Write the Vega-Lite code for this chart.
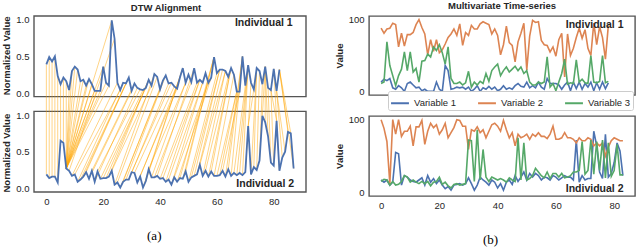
{
"$schema": "https://vega.github.io/schema/vega-lite/v6.json",
"padding": {"left": 1, "top": 0, "right": 3, "bottom": 0},
"config": {
  "font": "Liberation Sans",
  "view": {"stroke": "#555555", "strokeWidth": 1.4},
  "axis": {"grid": false, "ticks": false, "domain": false, "labelFont": "Liberation Sans", "labelFontSize": 9.5, "labelColor": "#262626", "titleFont": "Liberation Sans", "titleFontSize": 9.5, "titleFontWeight": "bold", "titleColor": "#262626", "labelPadding": 5, "titlePadding": 4},
  "title": {"font": "Liberation Sans", "fontSize": 9.5, "fontWeight": "bold", "color": "#262626", "offset": 2, "frame": "group"}
},
"datasets": {
  "top": [{"i":0,"v":0.39},{"i":1,"v":0.49},{"i":2,"v":0.43},{"i":3,"v":0.50},{"i":4,"v":0.23},{"i":5,"v":0.12},{"i":6,"v":0.21},{"i":7,"v":0.16},{"i":8,"v":0.04},{"i":9,"v":0.30},{"i":10,"v":0.36},{"i":11,"v":0.32},{"i":12,"v":0.16},{"i":13,"v":0.18},{"i":14,"v":0.10},{"i":15,"v":0.19},{"i":16,"v":0.12},{"i":17,"v":0.03},{"i":18,"v":0.03},{"i":19,"v":0.03},{"i":20,"v":0.36},{"i":21,"v":0.14},{"i":22,"v":0.10},{"i":23,"v":0.99},{"i":24,"v":0.74},{"i":25,"v":0.14},{"i":26,"v":0.04},{"i":27,"v":0.14},{"i":28,"v":0.13},{"i":29,"v":0.21},{"i":30,"v":0.03},{"i":31,"v":0.13},{"i":32,"v":0.07},{"i":33,"v":0.05},{"i":34,"v":0.04},{"i":35,"v":0.07},{"i":36,"v":0.18},{"i":37,"v":0.10},{"i":38,"v":0.26},{"i":39,"v":0.22},{"i":40,"v":0.05},{"i":41,"v":0.17},{"i":42,"v":0.24},{"i":43,"v":0.13},{"i":44,"v":0.14},{"i":45,"v":0.09},{"i":46,"v":0.06},{"i":47,"v":0.21},{"i":48,"v":0.34},{"i":49,"v":0.14},{"i":50,"v":0.25},{"i":51,"v":0.15},{"i":52,"v":0.34},{"i":53,"v":0.14},{"i":54,"v":0.18},{"i":55,"v":0.14},{"i":56,"v":0.27},{"i":57,"v":0.14},{"i":58,"v":0.21},{"i":59,"v":0.49},{"i":60,"v":0.27},{"i":61,"v":0.32},{"i":62,"v":0.32},{"i":63,"v":0.30},{"i":64,"v":0.22},{"i":65,"v":0.34},{"i":66,"v":0.25},{"i":67,"v":0.02},{"i":68,"v":0.02},{"i":69,"v":0.50},{"i":70,"v":0.10},{"i":71,"v":0.38},{"i":72,"v":0.14},{"i":73,"v":0.05},{"i":74,"v":0.34},{"i":75,"v":0.30},{"i":76,"v":0.12},{"i":77,"v":0.36},{"i":78,"v":0.07},{"i":79,"v":0.04},{"i":80,"v":0.33},{"i":81,"v":0.03},{"i":82,"v":0.32}],
  "bot": [{"i":0,"v":0.19},{"i":1,"v":0.14},{"i":2,"v":0.16},{"i":3,"v":0.16},{"i":4,"v":0.08},{"i":5,"v":0.65},{"i":6,"v":0.62},{"i":7,"v":0.27},{"i":8,"v":0.24},{"i":9,"v":0.17},{"i":10,"v":0.19},{"i":11,"v":0.09},{"i":12,"v":0.12},{"i":13,"v":0.16},{"i":14,"v":0.22},{"i":15,"v":0.13},{"i":16,"v":0.24},{"i":17,"v":0.09},{"i":18,"v":0.23},{"i":19,"v":0.13},{"i":20,"v":0.14},{"i":21,"v":0.14},{"i":22,"v":0.16},{"i":23,"v":0.24},{"i":24,"v":0.05},{"i":25,"v":0.08},{"i":26,"v":0.01},{"i":27,"v":0.09},{"i":28,"v":0.12},{"i":29,"v":0.12},{"i":30,"v":0.22},{"i":31,"v":0.21},{"i":32,"v":0.08},{"i":33,"v":0.16},{"i":34,"v":0.01},{"i":35,"v":0.10},{"i":36,"v":0.26},{"i":37,"v":0.15},{"i":38,"v":0.15},{"i":39,"v":0.17},{"i":40,"v":0.13},{"i":41,"v":0.14},{"i":42,"v":0.09},{"i":43,"v":0.12},{"i":44,"v":0.05},{"i":45,"v":0.15},{"i":46,"v":0.09},{"i":47,"v":0.14},{"i":48,"v":0.13},{"i":49,"v":0.23},{"i":50,"v":0.09},{"i":51,"v":0.15},{"i":52,"v":0.17},{"i":53,"v":0.19},{"i":54,"v":0.32},{"i":55,"v":0.17},{"i":56,"v":0.24},{"i":57,"v":0.16},{"i":58,"v":0.23},{"i":59,"v":0.17},{"i":60,"v":0.17},{"i":61,"v":0.18},{"i":62,"v":0.24},{"i":63,"v":0.16},{"i":64,"v":0.26},{"i":65,"v":0.17},{"i":66,"v":0.21},{"i":67,"v":0.18},{"i":68,"v":0.21},{"i":69,"v":0.18},{"i":70,"v":0.22},{"i":71,"v":0.85},{"i":72,"v":0.19},{"i":73,"v":0.29},{"i":74,"v":0.25},{"i":75,"v":0.38},{"i":76,"v":0.99},{"i":77,"v":0.90},{"i":78,"v":0.71},{"i":79,"v":0.35},{"i":80,"v":0.31},{"i":81,"v":0.92},{"i":82,"v":0.24},{"i":83,"v":0.42},{"i":84,"v":0.50},{"i":85,"v":0.77},{"i":86,"v":0.75},{"i":87,"v":0.27}],
  "b1": [{"i":0,"v1":13,"v2":88,"v3":11},{"i":1,"v1":17,"v2":81,"v3":13},{"i":2,"v1":15,"v2":87,"v3":69},{"i":3,"v1":18,"v2":88,"v3":36},{"i":4,"v1":5,"v2":95,"v3":22},{"i":5,"v1":3,"v2":93,"v3":8},{"i":6,"v1":8,"v2":62,"v3":22},{"i":7,"v1":5,"v2":81,"v3":31},{"i":8,"v1":0,"v2":63,"v3":55},{"i":9,"v1":11,"v2":79,"v3":29},{"i":10,"v1":13,"v2":79,"v3":55},{"i":11,"v1":9,"v2":82,"v3":27},{"i":12,"v1":5,"v2":93,"v3":32},{"i":13,"v1":6,"v2":100,"v3":13},{"i":14,"v1":1,"v2":89,"v3":42},{"i":15,"v1":3,"v2":80,"v3":43},{"i":16,"v1":0,"v2":51,"v3":52},{"i":17,"v1":0,"v2":72,"v3":48},{"i":18,"v1":0,"v2":56,"v3":62},{"i":19,"v1":13,"v2":72,"v3":57},{"i":20,"v1":3,"v2":54,"v3":65},{"i":21,"v1":0,"v2":58,"v3":54},{"i":22,"v1":36,"v2":66,"v3":38},{"i":23,"v1":29,"v2":75,"v3":62},{"i":24,"v1":3,"v2":80,"v3":18},{"i":25,"v1":4,"v2":87,"v3":11},{"i":26,"v1":6,"v2":78,"v3":11},{"i":27,"v1":5,"v2":94,"v3":13},{"i":28,"v1":6,"v2":64,"v3":9},{"i":29,"v1":3,"v2":82,"v3":12},{"i":30,"v1":6,"v2":78,"v3":28},{"i":31,"v1":0,"v2":92,"v3":6},{"i":32,"v1":3,"v2":87,"v3":13},{"i":33,"v1":8,"v2":87,"v3":9},{"i":34,"v1":0,"v2":94,"v3":14},{"i":35,"v1":5,"v2":97,"v3":11},{"i":36,"v1":3,"v2":95,"v3":25},{"i":37,"v1":7,"v2":93,"v3":14},{"i":38,"v1":3,"v2":80,"v3":29},{"i":39,"v1":6,"v2":87,"v3":34},{"i":40,"v1":1,"v2":78,"v3":38},{"i":41,"v1":3,"v2":51,"v3":22},{"i":42,"v1":8,"v2":65,"v3":29},{"i":43,"v1":3,"v2":91,"v3":34},{"i":44,"v1":5,"v2":68,"v3":27},{"i":45,"v1":3,"v2":64,"v3":31},{"i":46,"v1":8,"v2":41,"v3":35},{"i":47,"v1":11,"v2":69,"v3":29},{"i":48,"v1":7,"v2":81,"v3":34},{"i":49,"v1":6,"v2":95,"v3":25},{"i":50,"v1":13,"v2":30,"v3":29},{"i":51,"v1":5,"v2":77,"v3":13},{"i":52,"v1":8,"v2":99,"v3":9},{"i":53,"v1":5,"v2":96,"v3":9},{"i":54,"v1":13,"v2":97,"v3":13},{"i":55,"v1":6,"v2":71,"v3":11},{"i":56,"v1":3,"v2":65,"v3":13},{"i":57,"v1":18,"v2":64,"v3":48},{"i":58,"v1":11,"v2":55,"v3":6},{"i":59,"v1":11,"v2":62,"v3":11},{"i":60,"v1":11,"v2":49,"v3":1},{"i":61,"v1":9,"v2":72,"v3":13},{"i":62,"v1":3,"v2":81,"v3":25},{"i":63,"v1":9,"v2":20,"v3":45},{"i":64,"v1":13,"v2":80,"v3":10},{"i":65,"v1":1,"v2":50,"v3":12},{"i":66,"v1":13,"v2":60,"v3":11},{"i":67,"v1":4,"v2":75,"v3":44},{"i":68,"v1":13,"v2":88,"v3":13},{"i":69,"v1":3,"v2":74,"v3":17},{"i":70,"v1":11,"v2":86,"v3":12},{"i":71,"v1":6,"v2":60,"v3":11},{"i":72,"v1":13,"v2":50,"v3":50},{"i":73,"v1":1,"v2":95,"v3":13},{"i":74,"v1":12,"v2":65,"v3":12},{"i":75,"v1":3,"v2":90,"v3":14},{"i":76,"v1":13,"v2":75,"v3":50},{"i":77,"v1":4,"v2":45,"v3":12},{"i":78,"v1":12,"v2":92,"v3":14}],
  "b2": [{"i":0,"v1":17,"v2":100,"v3":15},{"i":1,"v1":14,"v2":88,"v3":18},{"i":2,"v1":17,"v2":70,"v3":17},{"i":3,"v1":10,"v2":12,"v3":10},{"i":4,"v1":14,"v2":100,"v3":15},{"i":5,"v1":55,"v2":80,"v3":10},{"i":6,"v1":53,"v2":100,"v3":11},{"i":7,"v1":10,"v2":77,"v3":15},{"i":8,"v1":23,"v2":84,"v3":23},{"i":9,"v1":21,"v2":84,"v3":21},{"i":10,"v1":17,"v2":91,"v3":14},{"i":11,"v1":15,"v2":64,"v3":17},{"i":12,"v1":14,"v2":90,"v3":14},{"i":13,"v1":17,"v2":90,"v3":12},{"i":14,"v1":20,"v2":99,"v3":15},{"i":15,"v1":10,"v2":66,"v3":12},{"i":16,"v1":23,"v2":84,"v3":15},{"i":17,"v1":14,"v2":95,"v3":9},{"i":18,"v1":19,"v2":89,"v3":14},{"i":19,"v1":12,"v2":93,"v3":15},{"i":20,"v1":17,"v2":80,"v3":21},{"i":21,"v1":10,"v2":86,"v3":11},{"i":22,"v1":5,"v2":95,"v3":14},{"i":23,"v1":8,"v2":75,"v3":9},{"i":24,"v1":3,"v2":82,"v3":6},{"i":25,"v1":10,"v2":89,"v3":11},{"i":26,"v1":11,"v2":100,"v3":12},{"i":27,"v1":12,"v2":99,"v3":10},{"i":28,"v1":10,"v2":91,"v3":11},{"i":29,"v1":12,"v2":91,"v3":12},{"i":30,"v1":20,"v2":59,"v3":72},{"i":31,"v1":12,"v2":86,"v3":71},{"i":32,"v1":3,"v2":84,"v3":15},{"i":33,"v1":10,"v2":90,"v3":86},{"i":34,"v1":21,"v2":82,"v3":17},{"i":35,"v1":17,"v2":86,"v3":59},{"i":36,"v1":14,"v2":75,"v3":21},{"i":37,"v1":10,"v2":84,"v3":15},{"i":38,"v1":17,"v2":93,"v3":21},{"i":39,"v1":14,"v2":95,"v3":19},{"i":40,"v1":6,"v2":91,"v3":17},{"i":41,"v1":12,"v2":84,"v3":19},{"i":42,"v1":3,"v2":99,"v3":17},{"i":43,"v1":14,"v2":86,"v3":14},{"i":44,"v1":17,"v2":75,"v3":20},{"i":45,"v1":11,"v2":82,"v3":17},{"i":46,"v1":23,"v2":64,"v3":15},{"i":47,"v1":15,"v2":80,"v3":75},{"i":48,"v1":21,"v2":75,"v3":17},{"i":49,"v1":28,"v2":77,"v3":68},{"i":50,"v1":17,"v2":80,"v3":17},{"i":51,"v1":26,"v2":73,"v3":19},{"i":52,"v1":21,"v2":80,"v3":23},{"i":53,"v1":26,"v2":77,"v3":33},{"i":54,"v1":23,"v2":82,"v3":28},{"i":55,"v1":17,"v2":77,"v3":23},{"i":56,"v1":21,"v2":77,"v3":20},{"i":57,"v1":20,"v2":74,"v3":28},{"i":58,"v1":17,"v2":80,"v3":19},{"i":59,"v1":23,"v2":91,"v3":26},{"i":60,"v1":21,"v2":73,"v3":26},{"i":61,"v1":17,"v2":73,"v3":21},{"i":62,"v1":20,"v2":75,"v3":26},{"i":63,"v1":23,"v2":82,"v3":20},{"i":64,"v1":21,"v2":75,"v3":21},{"i":65,"v1":21,"v2":75,"v3":23},{"i":66,"v1":17,"v2":73,"v3":28},{"i":67,"v1":72,"v2":68,"v3":28},{"i":68,"v1":14,"v2":75,"v3":30},{"i":69,"v1":23,"v2":71,"v3":70},{"i":70,"v1":17,"v2":71,"v3":25},{"i":71,"v1":19,"v2":75,"v3":30},{"i":72,"v1":19,"v2":73,"v3":72},{"i":73,"v1":84,"v2":64,"v3":25},{"i":74,"v1":64,"v2":68,"v3":70},{"i":75,"v1":28,"v2":64,"v3":30},{"i":76,"v1":19,"v2":68,"v3":72},{"i":77,"v1":80,"v2":50,"v3":20},{"i":78,"v1":21,"v2":62,"v3":68},{"i":79,"v1":26,"v2":71,"v3":22},{"i":80,"v1":41,"v2":75,"v3":30},{"i":81,"v1":68,"v2":73,"v3":66},{"i":82,"v1":57,"v2":71,"v3":24},{"i":83,"v1":23,"v2":71,"v3":24}]
},
"spacing": 26,
"hconcat": [
  {
    "title": {"text": "(a)", "orient": "bottom", "anchor": "middle", "frame": "bounds", "font": "Liberation Serif", "fontSize": 13, "fontWeight": "normal", "color": "#000000", "offset": 24},
    "vconcat": [
      {
        "width": 272, "height": 176,
        "view": {"stroke": null},
        "title": {"text": "DTW Alignment", "dx": -4},
        "resolve": {"axis": {"y": "independent"}},
        "layer": [
          {
            "data": {"values": [{"f": 1}]},
            "mark": {"type": "rect", "fill": null, "stroke": "#555555", "strokeWidth": 1.4},
            "encoding": {
              "x": {"datum": -4.35, "type": "quantitative", "scale": {"domain": [-4.35, 91.35], "nice": false, "zero": false}, "axis": {"values": [0, 20, 40, 60, 80], "title": null, "labelPadding": 4}},
              "x2": {"datum": 91.35},
              "y": {"datum": 1.25, "type": "quantitative", "scale": {"domain": [-0.05, 2.35], "nice": false, "zero": false}, "axis": null},
              "y2": {"datum": 2.35}
            }
          },
          {
            "data": {"values": [{"f": 1}]},
            "mark": {"type": "rect", "fill": null, "stroke": "#555555", "strokeWidth": 1.4},
            "encoding": {
              "x": {"datum": -4.35, "type": "quantitative"},
              "x2": {"datum": 91.35},
              "y": {"datum": -0.05, "type": "quantitative", "axis": null},
              "y2": {"datum": 1.05}
            }
          },
          {
            "data": {"values": [{"i":0,"j":0},{"i":1,"j":1},{"i":2,"j":2},{"i":3,"j":3},{"i":4,"j":4},{"i":5,"j":5},{"i":6,"j":6},{"i":7,"j":7},{"i":8,"j":7},{"i":9,"j":7},{"i":10,"j":7},{"i":11,"j":7},{"i":12,"j":7},{"i":13,"j":7},{"i":14,"j":7},{"i":15,"j":7},{"i":16,"j":7},{"i":17,"j":7},{"i":18,"j":7},{"i":19,"j":7},{"i":20,"j":7},{"i":21,"j":7},{"i":22,"j":7},{"i":23,"j":7},{"i":24,"j":8},{"i":25,"j":9},{"i":26,"j":10},{"i":27,"j":11},{"i":28,"j":12},{"i":28,"j":13},{"i":29,"j":14},{"i":30,"j":15},{"i":31,"j":16},{"i":32,"j":17},{"i":33,"j":18},{"i":34,"j":19},{"i":35,"j":20},{"i":36,"j":21},{"i":36,"j":22},{"i":37,"j":23},{"i":38,"j":24},{"i":39,"j":25},{"i":40,"j":26},{"i":41,"j":27},{"i":42,"j":28},{"i":43,"j":29},{"i":44,"j":30},{"i":45,"j":31},{"i":46,"j":32},{"i":47,"j":33},{"i":48,"j":34},{"i":48,"j":35},{"i":49,"j":36},{"i":50,"j":37},{"i":51,"j":38},{"i":52,"j":39},{"i":53,"j":40},{"i":54,"j":41},{"i":54,"j":42},{"i":55,"j":43},{"i":56,"j":44},{"i":57,"j":45},{"i":58,"j":46},{"i":59,"j":47},{"i":59,"j":48},{"i":59,"j":49},{"i":60,"j":50},{"i":61,"j":51},{"i":61,"j":52},{"i":62,"j":53},{"i":63,"j":54},{"i":63,"j":55},{"i":64,"j":56},{"i":65,"j":57},{"i":65,"j":58},{"i":66,"j":59},{"i":67,"j":60},{"i":67,"j":61},{"i":68,"j":62},{"i":69,"j":63},{"i":69,"j":64},{"i":69,"j":65},{"i":70,"j":66},{"i":71,"j":67},{"i":71,"j":68},{"i":71,"j":69},{"i":72,"j":70},{"i":73,"j":71},{"i":74,"j":72},{"i":74,"j":73},{"i":75,"j":74},{"i":76,"j":75},{"i":77,"j":76},{"i":77,"j":77},{"i":77,"j":78},{"i":78,"j":79},{"i":79,"j":80},{"i":79,"j":81},{"i":80,"j":82},{"i":81,"j":83},{"i":81,"j":84},{"i":82,"j":85},{"i":82,"j":86},{"i":82,"j":87}]},
            "transform": [
              {"lookup": "i", "from": {"data": {"values": [{"i":0,"v":0.39},{"i":1,"v":0.49},{"i":2,"v":0.43},{"i":3,"v":0.50},{"i":4,"v":0.23},{"i":5,"v":0.12},{"i":6,"v":0.21},{"i":7,"v":0.16},{"i":8,"v":0.04},{"i":9,"v":0.30},{"i":10,"v":0.36},{"i":11,"v":0.32},{"i":12,"v":0.16},{"i":13,"v":0.18},{"i":14,"v":0.10},{"i":15,"v":0.19},{"i":16,"v":0.12},{"i":17,"v":0.03},{"i":18,"v":0.03},{"i":19,"v":0.03},{"i":20,"v":0.36},{"i":21,"v":0.14},{"i":22,"v":0.10},{"i":23,"v":0.99},{"i":24,"v":0.74},{"i":25,"v":0.14},{"i":26,"v":0.04},{"i":27,"v":0.14},{"i":28,"v":0.13},{"i":29,"v":0.21},{"i":30,"v":0.03},{"i":31,"v":0.13},{"i":32,"v":0.07},{"i":33,"v":0.05},{"i":34,"v":0.04},{"i":35,"v":0.07},{"i":36,"v":0.18},{"i":37,"v":0.10},{"i":38,"v":0.26},{"i":39,"v":0.22},{"i":40,"v":0.05},{"i":41,"v":0.17},{"i":42,"v":0.24},{"i":43,"v":0.13},{"i":44,"v":0.14},{"i":45,"v":0.09},{"i":46,"v":0.06},{"i":47,"v":0.21},{"i":48,"v":0.34},{"i":49,"v":0.14},{"i":50,"v":0.25},{"i":51,"v":0.15},{"i":52,"v":0.34},{"i":53,"v":0.14},{"i":54,"v":0.18},{"i":55,"v":0.14},{"i":56,"v":0.27},{"i":57,"v":0.14},{"i":58,"v":0.21},{"i":59,"v":0.49},{"i":60,"v":0.27},{"i":61,"v":0.32},{"i":62,"v":0.32},{"i":63,"v":0.30},{"i":64,"v":0.22},{"i":65,"v":0.34},{"i":66,"v":0.25},{"i":67,"v":0.02},{"i":68,"v":0.02},{"i":69,"v":0.50},{"i":70,"v":0.10},{"i":71,"v":0.38},{"i":72,"v":0.14},{"i":73,"v":0.05},{"i":74,"v":0.34},{"i":75,"v":0.30},{"i":76,"v":0.12},{"i":77,"v":0.36},{"i":78,"v":0.07},{"i":79,"v":0.04},{"i":80,"v":0.33},{"i":81,"v":0.03},{"i":82,"v":0.32}]}, "key": "i", "fields": ["v"]}, "as": ["vt"]},
              {"lookup": "j", "from": {"data": {"values": [{"i":0,"v":0.19},{"i":1,"v":0.14},{"i":2,"v":0.16},{"i":3,"v":0.16},{"i":4,"v":0.08},{"i":5,"v":0.65},{"i":6,"v":0.62},{"i":7,"v":0.27},{"i":8,"v":0.24},{"i":9,"v":0.17},{"i":10,"v":0.19},{"i":11,"v":0.09},{"i":12,"v":0.12},{"i":13,"v":0.16},{"i":14,"v":0.22},{"i":15,"v":0.13},{"i":16,"v":0.24},{"i":17,"v":0.09},{"i":18,"v":0.23},{"i":19,"v":0.13},{"i":20,"v":0.14},{"i":21,"v":0.14},{"i":22,"v":0.16},{"i":23,"v":0.24},{"i":24,"v":0.05},{"i":25,"v":0.08},{"i":26,"v":0.01},{"i":27,"v":0.09},{"i":28,"v":0.12},{"i":29,"v":0.12},{"i":30,"v":0.22},{"i":31,"v":0.21},{"i":32,"v":0.08},{"i":33,"v":0.16},{"i":34,"v":0.01},{"i":35,"v":0.10},{"i":36,"v":0.26},{"i":37,"v":0.15},{"i":38,"v":0.15},{"i":39,"v":0.17},{"i":40,"v":0.13},{"i":41,"v":0.14},{"i":42,"v":0.09},{"i":43,"v":0.12},{"i":44,"v":0.05},{"i":45,"v":0.15},{"i":46,"v":0.09},{"i":47,"v":0.14},{"i":48,"v":0.13},{"i":49,"v":0.23},{"i":50,"v":0.09},{"i":51,"v":0.15},{"i":52,"v":0.17},{"i":53,"v":0.19},{"i":54,"v":0.32},{"i":55,"v":0.17},{"i":56,"v":0.24},{"i":57,"v":0.16},{"i":58,"v":0.23},{"i":59,"v":0.17},{"i":60,"v":0.17},{"i":61,"v":0.18},{"i":62,"v":0.24},{"i":63,"v":0.16},{"i":64,"v":0.26},{"i":65,"v":0.17},{"i":66,"v":0.21},{"i":67,"v":0.18},{"i":68,"v":0.21},{"i":69,"v":0.18},{"i":70,"v":0.22},{"i":71,"v":0.85},{"i":72,"v":0.19},{"i":73,"v":0.29},{"i":74,"v":0.25},{"i":75,"v":0.38},{"i":76,"v":0.99},{"i":77,"v":0.90},{"i":78,"v":0.71},{"i":79,"v":0.35},{"i":80,"v":0.31},{"i":81,"v":0.92},{"i":82,"v":0.24},{"i":83,"v":0.42},{"i":84,"v":0.50},{"i":85,"v":0.77},{"i":86,"v":0.75},{"i":87,"v":0.27}]}, "key": "i", "fields": ["v"]}, "as": ["vb"]},
              {"calculate": "datum.vt + 1.3", "as": "yt"}
            ],
            "mark": {"type": "rule", "color": "#ffa500", "opacity": 0.6, "strokeWidth": 0.8},
            "encoding": {
              "x": {"field": "i", "type": "quantitative"},
              "x2": {"field": "j"},
              "y": {"field": "yt", "type": "quantitative", "axis": null},
              "y2": {"field": "vb"}
            }
          },
          {
            "data": {"name": "top"},
            "transform": [{"calculate": "datum.v + 1.3", "as": "yt"}],
            "mark": {"type": "line", "color": "#4C72B0", "strokeWidth": 1.8},
            "encoding": {
              "x": {"field": "i", "type": "quantitative"},
              "y": {"field": "yt", "type": "quantitative", "axis": {"orient": "left", "values": [1.3, 1.8, 2.3], "labelExpr": "format(datum.value - 1.3, '.1f')", "title": "Normalized Value", "titleAnchor": "end"}}
            }
          },
          {
            "data": {"name": "bot"},
            "mark": {"type": "line", "color": "#4C72B0", "strokeWidth": 1.8},
            "encoding": {
              "x": {"field": "i", "type": "quantitative"},
              "y": {"field": "v", "type": "quantitative", "axis": {"orient": "left", "values": [0, 0.5, 1], "format": ".1f", "title": "Normalized Value", "titleAnchor": "start"}}
            }
          },
          {
            "data": {"values": [{"label": "Individual 1"}]},
            "mark": {"type": "text", "fontWeight": "bold", "fontSize": 10.5, "color": "#262626", "align": "center", "baseline": "middle"},
            "encoding": {
              "text": {"field": "label"},
              "x": {"datum": 76.5, "type": "quantitative"},
              "y": {"datum": 2.26, "type": "quantitative", "axis": null}
            }
          },
          {
            "data": {"values": [{"label": "Individual 2"}]},
            "mark": {"type": "text", "fontWeight": "bold", "fontSize": 10.5, "color": "#262626", "align": "center", "baseline": "middle"},
            "encoding": {
              "text": {"field": "label"},
              "x": {"datum": 77, "type": "quantitative"},
              "y": {"datum": 0.06, "type": "quantitative", "axis": null}
            }
          }
        ]
      }
    ]
  },
  {
    "title": {"text": "(b)", "orient": "bottom", "anchor": "middle", "frame": "bounds", "font": "Liberation Serif", "fontSize": 13, "fontWeight": "normal", "color": "#000000", "offset": 24, "dx": 6},
    "spacing": 16,
    "vconcat": [
      {
        "width": 266, "height": 79,
        "title": {"text": "Multivariate Time-series", "offset": 4},
        "layer": [
          {
            "data": {"name": "b1"},
            "transform": [{"fold": ["v1", "v2", "v3"], "as": ["key", "value"]}],
            "mark": {"type": "line", "strokeWidth": 1.6},
            "encoding": {
              "x": {"field": "i", "type": "quantitative", "scale": {"domain": [-4.15, 87.15], "nice": false, "zero": false}, "axis": null},
              "y": {"field": "value", "type": "quantitative", "scale": {"domain": [-5, 105], "nice": false}, "axis": {"values": [0, 50, 100], "title": "Value"}},
              "color": {"field": "key", "type": "nominal", "scale": {"domain": ["v1", "v2", "v3"], "range": ["#4C72B0", "#DD8452", "#55A868"]},
                "legend": {"orient": "none", "legendX": 354, "legendY": 75, "direction": "horizontal", "title": null, "symbolType": "stroke", "symbolStrokeWidth": 2, "symbolSize": 320, "labelFontSize": 9.5, "labelColor": "#262626", "labelFont": "Liberation Sans", "labelOffset": 4, "columnPadding": 17, "fillColor": "#ffffff", "strokeColor": "#cccccc", "padding": 2, "cornerRadius": 2, "labelExpr": "'Variable ' + substring(datum.label, 1)"}}
            }
          },
          {
            "data": {"values": [{"label": "Individual 1"}]},
            "mark": {"type": "text", "fontWeight": "bold", "fontSize": 10.5, "color": "#262626", "align": "center", "baseline": "middle"},
            "encoding": {
              "text": {"field": "label"},
              "x": {"datum": 73.3, "type": "quantitative"},
              "y": {"datum": 93, "type": "quantitative"}
            }
          }
        ]
      },
      {
        "width": 266, "height": 80,
        "layer": [
          {
            "data": {"name": "b2"},
            "transform": [{"fold": ["v1", "v2", "v3"], "as": ["key", "value"]}],
            "mark": {"type": "line", "strokeWidth": 1.6},
            "encoding": {
              "x": {"field": "i", "type": "quantitative", "scale": {"domain": [-4.15, 87.15], "nice": false, "zero": false}, "axis": {"values": [0, 20, 40, 60, 80], "title": null, "labelPadding": 4}},
              "y": {"field": "value", "type": "quantitative", "scale": {"domain": [-5, 105], "nice": false}, "axis": {"values": [0, 50, 100], "title": "Value"}},
              "color": {"field": "key", "type": "nominal", "scale": {"domain": ["v1", "v2", "v3"], "range": ["#4C72B0", "#DD8452", "#55A868"]},
                "legend": {"orient": "none", "legendX": 354, "legendY": 75, "direction": "horizontal", "title": null, "symbolType": "stroke", "symbolStrokeWidth": 2, "symbolSize": 320, "labelFontSize": 9.5, "labelColor": "#262626", "labelFont": "Liberation Sans", "labelOffset": 4, "columnPadding": 17, "fillColor": "#ffffff", "strokeColor": "#cccccc", "padding": 2, "cornerRadius": 2, "labelExpr": "'Variable ' + substring(datum.label, 1)"}}
            }
          },
          {
            "data": {"values": [{"label": "Individual 2"}]},
            "mark": {"type": "text", "fontWeight": "bold", "fontSize": 10.5, "color": "#262626", "align": "center", "baseline": "middle"},
            "encoding": {
              "text": {"field": "label"},
              "x": {"datum": 73.3, "type": "quantitative"},
              "y": {"datum": 5, "type": "quantitative"}
            }
          }
        ]
      }
    ]
  }
]
}
